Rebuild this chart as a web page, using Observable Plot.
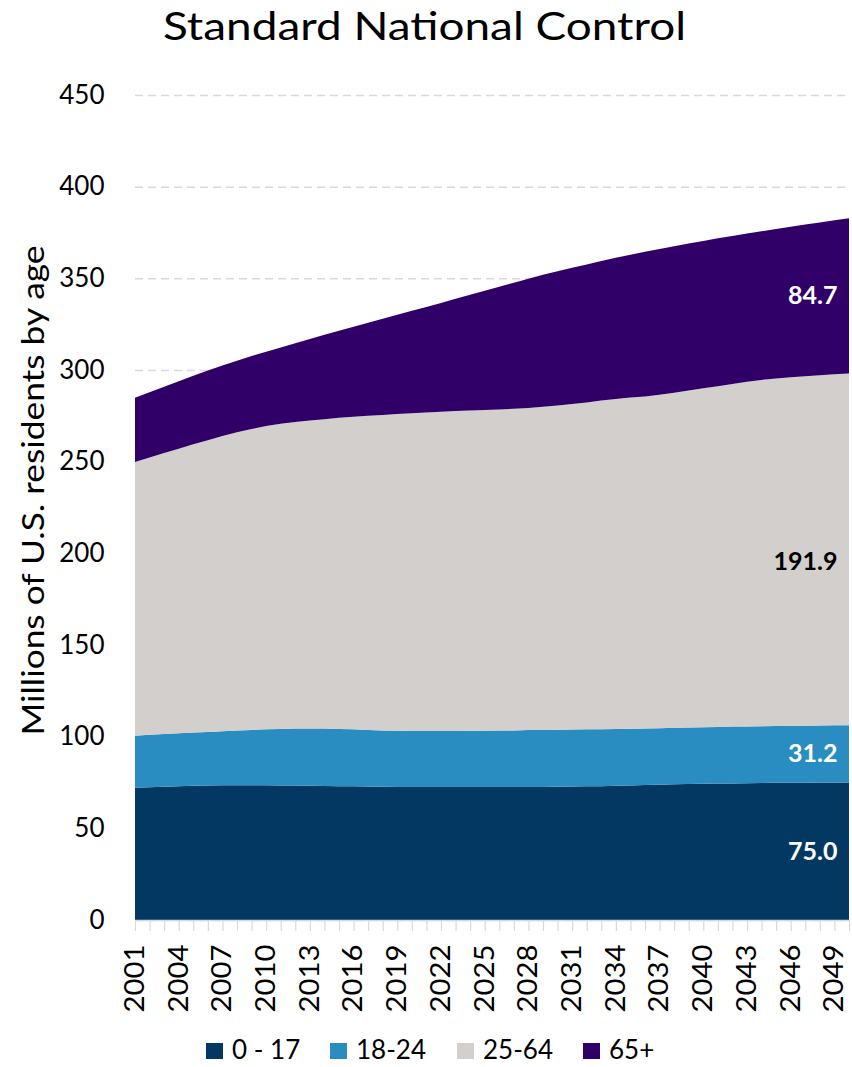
<!DOCTYPE html>
<html>
<head>
<meta charset="utf-8">
<script src="https://cdn.jsdelivr.net/npm/d3@7"></script>
<script src="https://cdn.jsdelivr.net/npm/@observablehq/plot@0.6"></script>
<style>
  html, body { margin: 0; padding: 0; background: #fff; }
  #chart { width: 852px; height: 1067px; font-family: Lato, sans-serif; }
  #chart svg { display: block; }
</style>
</head>
<body>
<div id="chart"></div>
<script>
// Projected U.S. residents (millions) by age group, 2001–2050
const years = [2001, 2002, 2003, 2004, 2005, 2006, 2007, 2008, 2009, 2010,
  2011, 2012, 2013, 2014, 2015, 2016, 2017, 2018, 2019, 2020,
  2021, 2022, 2023, 2024, 2025, 2026, 2027, 2028, 2029, 2030,
  2031, 2032, 2033, 2034, 2035, 2036, 2037, 2038, 2039, 2040,
  2041, 2042, 2043, 2044, 2045, 2046, 2047, 2048, 2049, 2050];

const groups = ["0 - 17", "18-24", "25-64", "65+"];
const colors = ["#033862", "#2a8dc2", "#d3cfcc", "#300068"];

const age0to17 = [72.1, 72.4, 72.7, 73.0, 73.2, 73.4, 73.5, 73.5, 73.5, 73.5,
  73.4, 73.3, 73.2, 73.1, 73.0, 72.9, 72.8, 72.7, 72.6, 72.6,
  72.5, 72.5, 72.5, 72.5, 72.5, 72.5, 72.5, 72.6, 72.6, 72.7,
  72.8, 72.9, 73.0, 73.2, 73.4, 73.6, 73.8, 74.0, 74.2, 74.3,
  74.4, 74.5, 74.6, 74.7, 74.8, 74.9, 74.9, 75.0, 75.0, 75.0];

const age18to24 = [28.4, 28.6, 28.8, 28.9, 29.1, 29.2, 29.4, 29.8, 30.2, 30.5,
  30.8, 31.1, 31.3, 31.3, 31.2, 31.1, 30.9, 30.7, 30.6, 30.5,
  30.6, 30.6, 30.6, 30.7, 30.7, 30.8, 30.9, 31.0, 31.1, 31.1,
  31.1, 31.1, 31.1, 31.0, 30.9, 30.8, 30.8, 30.8, 30.8, 30.9,
  30.9, 31.0, 31.0, 31.0, 31.0, 31.0, 31.1, 31.1, 31.2, 31.2];

const age25to64 = [149.3, 151.3, 153.2, 155.2, 157.2, 159.1, 161.1, 162.7, 164.1, 165.4,
  166.5, 167.2, 167.9, 168.8, 169.7, 170.5, 171.3, 172.1, 172.8, 173.3,
  173.7, 174.1, 174.5, 174.7, 175.0, 175.2, 175.5, 175.7, 176.2, 176.8,
  177.5, 178.3, 179.2, 180.0, 180.7, 181.2, 181.9, 182.8, 183.8, 184.8,
  185.9, 186.9, 188.0, 188.9, 189.6, 190.1, 190.6, 191.1, 191.5, 191.9];

const age65plus = [35.0, 35.5, 36.1, 36.7, 37.3, 38.0, 38.4, 39.0, 39.8, 40.6,
  41.6, 43.0, 44.5, 46.0, 47.5, 49.1, 50.8, 52.5, 54.1, 55.9,
  57.6, 59.4, 61.2, 63.1, 65.0, 66.9, 68.7, 70.5, 72.0, 73.3,
  74.4, 75.3, 76.1, 77.0, 77.9, 78.9, 79.5, 79.9, 80.2, 80.4,
  80.6, 80.7, 80.8, 81.1, 81.5, 82.1, 82.7, 83.3, 84.0, 84.7];

const xTickYears = [2001, 2004, 2007, 2010, 2013, 2016, 2019, 2022, 2025,
  2028, 2031, 2034, 2037, 2040, 2043, 2046, 2049];
const yTicks = [0, 50, 100, 150, 200, 250, 300, 350, 400, 450];

const titleText = "Standard National Control";
const yTitle = "Millions of U.S. residents by age";

// Long-format table for the stacked areas
const series = [age0to17, age18to24, age25to64, age65plus];
const rows = groups.flatMap((group, k) =>
  years.map((year, i) => ({year, group, value: series[k][i]})));

// End-of-period labels, placed at the middle of each band in the last year
const last = years.length - 1;
const lastYear = years[last];
let base = 0;
const endLabels = groups.map((group, k) => {
  const value = series[k][last];
  const mid = base + value / 2;
  base += value;
  return {group, value, mid, label: value.toFixed(1)};
});

const chart = document.getElementById("chart");

// Title
const head = d3.create("svg").attr("width", 852).attr("height", 62);
head.append("text")
  .attr("x", 424.5).attr("y", 40)
  .attr("text-anchor", "middle")
  .attr("font-family", "Lato, sans-serif")
  .attr("font-size", 38)
  .attr("fill", "#000")
  .attr("textLength", 523).attr("lengthAdjust", "spacingAndGlyphs")
  .text(titleText);
chart.append(head.node());

const labelStyle = {x: () => lastYear, y: "mid", text: "label", textAnchor: "end",
  dx: -12, fontWeight: "bold", fontSize: 25};

const plot = Plot.plot({
  width: 852,
  height: 958,
  marginTop: 33,
  marginBottom: 100,
  marginLeft: 135,
  marginRight: 3,
  style: {fontFamily: "Lato, sans-serif", fontSize: "26px", color: "#000", background: "#fff"},
  x: {domain: [years[0], lastYear]},
  y: {domain: [0, 450]},
  color: {domain: groups, range: colors},
  marks: [
    Plot.gridY(yTicks, {stroke: "#d9d9d9", strokeOpacity: 1, strokeWidth: 1.5, strokeDasharray: "8 5"}),
    Plot.areaY(rows, {x: "year", y: "value", z: "group", fill: "group", order: groups}),
    Plot.ruleY([0], {stroke: "#d9d9d9", strokeWidth: 1.5}),
    Plot.axisX(years, {tickSize: 11, tickFormat: () => "", stroke: "#d9d9d9", strokeWidth: 1.2, label: null}),
    Plot.axisX(xTickYears, {tickSize: 0, tickPadding: 24, tickRotate: -90,
      tickFormat: (d) => String(d), fontSize: 26, fill: "#000", label: null}),
    Plot.axisY(yTicks, {tickSize: 0, tickPadding: 31, fontSize: 26, fill: "#000", label: null}),
    Plot.text([yTitle], {text: (d) => d, frameAnchor: "left", textAnchor: "middle", rotate: -90,
      dx: -101, dy: -17.5, fontSize: 30, fill: "#000"}),
    Plot.text(endLabels.filter((d) => d.group !== "25-64"), {...labelStyle, fill: "#fff"}),
    Plot.text(endLabels.filter((d) => d.group === "25-64"), {...labelStyle, dy: 12, fill: "#000"})
  ]
});

// Stretch the axis title and the year labels to their full span
const svg = d3.select(plot);
svg.selectAll("text")
  .filter(function () { return this.textContent === yTitle; })
  .attr("textLength", 490)
  .attr("lengthAdjust", "spacingAndGlyphs");
svg.selectAll("text")
  .filter(function () { return xTickYears.map(String).includes(this.textContent); })
  .attr("textLength", 68)
  .attr("lengthAdjust", "spacingAndGlyphs");
chart.append(plot);

// Legend
const legendX = [206, 330, 457, 583];
const legend = d3.create("svg").attr("width", 852).attr("height", 47);
const item = legend.selectAll("g").data(groups).join("g")
  .attr("transform", (d, i) => `translate(${legendX[i]},0)`);
item.append("rect")
  .attr("x", 0).attr("y", 23).attr("width", 17).attr("height", 16)
  .attr("fill", (d, i) => colors[i]);
item.append("text")
  .attr("x", 26).attr("y", 39)
  .attr("font-family", "Lato, sans-serif")
  .attr("font-size", 26)
  .attr("fill", "#000")
  .text((d) => d);
chart.append(legend.node());
</script>
</body>
</html>
